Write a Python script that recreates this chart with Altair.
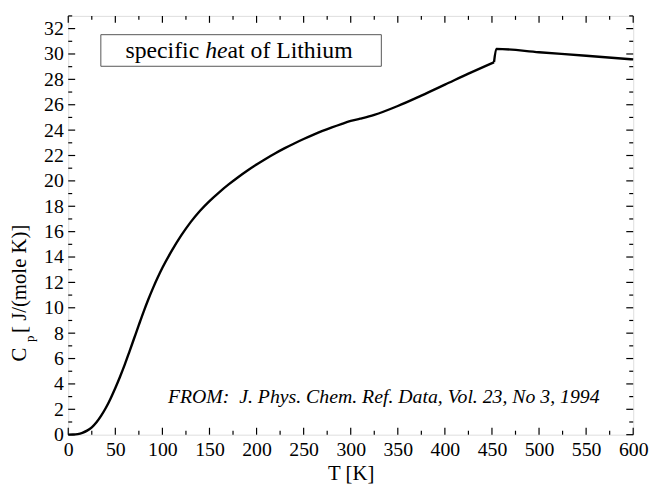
import altair as alt
import pandas as pd

# Data (solid phase, then the jump at melting and liquid phase)
T_solid = [0, 5, 10, 15, 20, 25, 30, 35, 40, 45, 50, 55, 60, 65, 70, 75, 80, 85, 90,
           95, 100, 110, 120, 130, 140, 150, 160, 170, 180, 190, 200, 210, 220, 230,
           240, 250, 260, 270, 280, 290, 300, 310, 325, 350, 375, 400, 425, 452.2]
Cp_solid = [0, 0.01, 0.05, 0.15, 0.32, 0.58, 0.98, 1.5, 2.12, 2.86, 3.68, 4.57, 5.52,
            6.55, 7.6, 8.65, 9.68, 10.65, 11.55, 12.38, 13.15, 14.5, 15.7, 16.75,
            17.65, 18.41, 19.08, 19.7, 20.27, 20.8, 21.29, 21.75, 22.18, 22.58, 22.95,
            23.3, 23.63, 23.94, 24.22, 24.48, 24.72, 24.9, 25.2, 25.9, 26.72, 27.58,
            28.45, 29.35]
T_liquid = [452.2, 454.6, 500, 550, 600]
Cp_liquid = [29.35, 30.4, 30.14, 29.86, 29.57]

x_major = list(range(0, 601, 50))
x_minor = list(range(25, 600, 50))
y_major = list(range(0, 33, 2))
y_minor = list(range(1, 34, 2))

W, H = 572, 424
FONT = "Liberation Serif"

xs = alt.Scale(domain=[0, 600], nice=False, zero=False)
ys = alt.Scale(domain=[0, 33], nice=False, zero=False)

x_axis = alt.Axis(values=x_major, ticks=False, domain=False, grid=False,
                  labelFontSize=20, labelFont=FONT, labelColor="black",
                  labelPadding=5, titleFont=FONT, titleFontSize=21,
                  titleFontWeight="normal", titleColor="black", titlePadding=3,
                  labelFlush=False, labelOverlap=False, title="T [K]")
y_axis = alt.Axis(values=y_major, ticks=False, domain=False, grid=False,
                  labelFontSize=20, labelFont=FONT, labelColor="black",
                  labelPadding=5, labelFlush=False, labelOverlap=False, title=None)

df = pd.concat([
    pd.DataFrame({"T": T_solid, "Cp": Cp_solid, "phase": "solid"}),
    pd.DataFrame({"T": T_liquid, "Cp": Cp_liquid, "phase": "liquid"}),
], ignore_index=True)

line = alt.Chart(df).mark_line(color="black", strokeWidth=2.4, interpolate="monotone").encode(
    x=alt.X("T:Q", scale=xs, axis=x_axis),
    y=alt.Y("Cp:Q", scale=ys, axis=y_axis),
    detail="phase:N",
)

def xticks(vals, length):
    d = pd.DataFrame({"T": vals})
    b = alt.Chart(d).mark_rule(color="black", strokeWidth=1.2).encode(
        x=alt.X("T:Q", scale=xs, axis=x_axis), y=alt.value(H), y2=alt.value(H - length))
    t = alt.Chart(d).mark_rule(color="black", strokeWidth=1.2).encode(
        x=alt.X("T:Q", scale=xs, axis=x_axis), y=alt.value(0), y2=alt.value(length))
    return b + t

def yticks(vals, length):
    d = pd.DataFrame({"Cp": vals})
    l = alt.Chart(d).mark_rule(color="black", strokeWidth=1.2).encode(
        y=alt.Y("Cp:Q", scale=ys, axis=y_axis), x=alt.value(0), x2=alt.value(length))
    r = alt.Chart(d).mark_rule(color="black", strokeWidth=1.2).encode(
        y=alt.Y("Cp:Q", scale=ys, axis=y_axis), x=alt.value(W), x2=alt.value(W - length))
    return l + r

one = pd.DataFrame({"a": [0]})

box = alt.Chart(one).mark_rect(fill="white", stroke="#555555", strokeWidth=1).encode(
    x=alt.value(33), x2=alt.value(317), y=alt.value(19), y2=alt.value(51))

t1 = alt.Chart(one).mark_text(text="specific", font=FONT, fontSize=24, align="left",
                              baseline="middle", color="black").encode(
    x=alt.value(58), y=alt.value(36))
t2 = alt.Chart(one).mark_text(text="he", font=FONT, fontSize=24, fontStyle="italic",
                              align="left", baseline="middle", color="black").encode(
    x=alt.value(138.6), y=alt.value(36))
t3 = alt.Chart(one).mark_text(text="at of Lithium", font=FONT, fontSize=24, align="left",
                              baseline="middle", color="black").encode(
    x=alt.value(161.3), y=alt.value(36))

src = alt.Chart(one).mark_text(
    text="FROM:\u00a0\u00a0J. Phys. Chem. Ref. Data, Vol. 23, No 3, 1994",
    font=FONT, fontSize=20, fontStyle="italic", align="right", baseline="alphabetic",
    color="black").encode(x=alt.value(538), y=alt.value(392))

yc = alt.Chart(one).mark_text(text="C", font=FONT, fontSize=21, angle=270, align="center",
                              baseline="middle", color="black").encode(
    x=alt.value(-49), y=alt.value(343))
yp = alt.Chart(one).mark_text(text="p", font=FONT, fontSize=13, angle=270, align="center",
                              baseline="middle", color="black").encode(
    x=alt.value(-39), y=alt.value(327))
yr = alt.Chart(one).mark_text(text="[ J/(mole K)]", font=FONT, fontSize=21, angle=270,
                              align="left", baseline="middle", color="black").encode(
    x=alt.value(-49), y=alt.value(321))

chart = alt.layer(
    line,
    xticks(x_major, 7), xticks(x_minor, 4),
    yticks(y_major, 7), yticks(y_minor, 4),
    box, t1, t2, t3, src, yc, yp, yr,
).properties(
    width=W, height=H,
    autosize=alt.AutoSizeParams(type="none"),
    padding={"left": 61, "top": 5, "right": 16, "bottom": 53},
).configure_view(stroke="black", strokeWidth=1.5).configure(
    background="white", font=FONT
).configure_axis(labelFont=FONT, titleFont=FONT)

chart.save("out.html", embed_options={"renderer": "svg", "actions": False})
